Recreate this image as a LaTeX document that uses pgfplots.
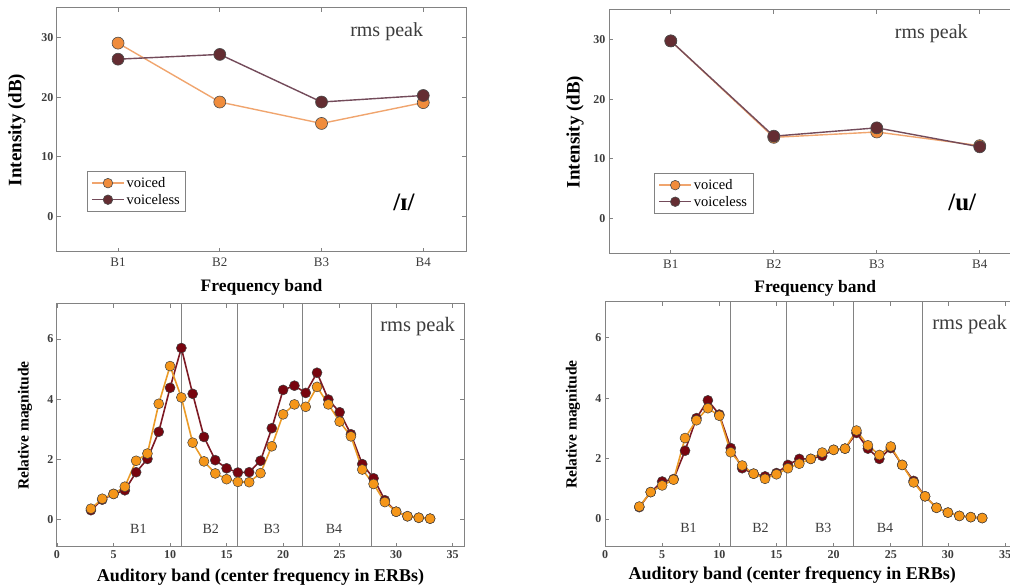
\documentclass[border=0pt]{standalone}
\usepackage{pgfplots}
\pgfplotsset{compat=1.18}
\usepackage{fontspec}
\setmainfont{Liberation Serif}
\definecolor{oTopFill}{RGB}{240,140,60}
\definecolor{oTopLine}{RGB}{240,165,110}
\definecolor{dTopFill}{RGB}{100,45,50}
\definecolor{dTopLine}{RGB}{115,75,90}
\definecolor{oBotFill}{RGB}{245,150,25}
\definecolor{oBotLine}{RGB}{235,155,40}
\definecolor{dBotFill}{RGB}{120,5,15}
\definecolor{dBotLine}{RGB}{125,25,35}
\definecolor{axgray}{RGB}{130,130,130}
\definecolor{txtgray}{RGB}{60,60,60}
\newcommand{\fs}[1]{\fontsize{#1}{#1}\selectfont}

\pgfplotsset{
  common/.style={
    scale only axis,
    anchor=south west,
    axis line style={axgray, line width=1pt},
    tick style={axgray, line width=0.8pt},
    major tick length=4pt,
    tick align=inside,
    xtick pos=both, ytick pos=both,
    /pgf/number format/assume math mode=true,
    yticklabel style={font=\bfseries\fs{12}, text=txtgray},
    clip=false,
  },
  top/.style={
    common,
    xmin=0.4, xmax=4.42, ymin=-6, ymax=35,
    xtick={1,2,3,4}, xticklabels={B1,B2,B3,B4},
    xticklabel style={font=\fs{13}, text=txtgray, yshift=-2pt},
    ytick={0,10,20,30},
    legend cell align=left,
    legend style={draw=axgray, line width=0.8pt, font=\fs{14.5}, anchor=north west,
      inner xsep=4pt, inner ysep=4pt, row sep=1pt},
    legend image code/.code={\draw[mark repeat=2,mark phase=2,#1] plot coordinates {(0pt,0pt) (16pt,0pt) (32pt,0pt)};},
    legend image post style={mark size=4.8pt},
  },
  bot/.style={
    common,
    xmin=0, xmax=36,
    xtick={0,5,...,35},
    xticklabel style={font=\bfseries\fs{12}, text=txtgray},
    ytick={0,2,4,6},
  },
}

\begin{document}
\begin{tikzpicture}[x=1pt,y=1pt]
\path[use as bounding box] (0,0) rectangle (1010,588);
\clip (0,0) rectangle (1010,588);

% ---------------- top left ----------------
\begin{axis}[top, at={(57pt,336pt)}, width=409pt, height=244pt,
  xlabel={\bfseries\fs{17.5}Frequency band},
  ylabel={\bfseries\fs{19}Intensity (dB)},
  every axis x label/.style={at={(axis description cs:0.5,-0.143)},anchor=center},
  every axis y label/.style={at={(axis description cs:-0.098,0.5)},anchor=center,rotate=90},
  legend style={at={(rel axis cs:0.073,0.332)}},
]
\addplot[color=oTopLine, line width=1.4pt, mark=*, mark size=6pt,
  mark options={fill=oTopFill, draw=black!70, line width=0.6pt}]
  coordinates {(1,29.1) (2,19.2) (3,15.6) (4,19.1)};
\addlegendentry{voiced}
\addplot[color=dTopLine, line width=1.4pt, mark=*, mark size=6pt,
  mark options={fill=dTopFill, draw=black!70, line width=0.6pt}]
  coordinates {(1,26.4) (2,27.2) (3,19.2) (4,20.3)};
\addlegendentry{voiceless}
\node[font=\fs{20}, text=txtgray] at (axis cs:3.64,31) {rms peak};
\node[font=\bfseries\fs{25}] at (axis cs:3.81,2.35) {/ɪ/};
\end{axis}

% ---------------- top right ----------------
\begin{axis}[top, at={(609pt,334pt)}, width=414pt, height=244pt,
  xlabel={\bfseries\fs{17.5}Frequency band},
  ylabel={\bfseries\fs{19}Intensity (dB)},
  every axis x label/.style={at={(axis description cs:0.498,-0.139)},anchor=center},
  every axis y label/.style={at={(axis description cs:-0.082,0.5)},anchor=center,rotate=90},
  legend style={at={(rel axis cs:0.109,0.332)}},
]
\addplot[color=oTopLine, line width=1.4pt, mark=*, mark size=6pt,
  mark options={fill=oTopFill, draw=black!70, line width=0.6pt}]
  coordinates {(1,29.8) (2,13.6) (3,14.5) (4,12.2)};
\addlegendentry{voiced}
\addplot[color=dTopLine, line width=1.4pt, mark=*, mark size=6pt,
  mark options={fill=dTopFill, draw=black!70, line width=0.6pt}]
  coordinates {(1,29.8) (2,13.8) (3,15.2) (4,12.0)};
\addlegendentry{voiceless}
\node[font=\fs{20}, text=txtgray] at (axis cs:3.53,31) {rms peak};
\node[font=\bfseries\fs{25}] at (axis cs:3.83,2.7) {/u/};
\end{axis}

% ---------------- bottom left ----------------
\begin{axis}[bot, at={(57pt,41pt)}, width=407pt, height=243pt,
  ymin=-0.9, ymax=7.16,
  xlabel={\bfseries\fs{18}Auditory band (center frequency in ERBs)},
  ylabel={\bfseries\fs{15.5}Relative magnitude},
  every axis x label/.style={at={(axis description cs:0.5,-0.123)},anchor=center},
  every axis y label/.style={at={(axis description cs:-0.079,0.5)},anchor=center,rotate=90},
]
\foreach \v in {11,16,21.7,27.8}{
  \edef\tmp{\noexpand\draw[axgray, line width=0.9pt] (axis cs:\v,-0.9) -- (axis cs:\v,7.16);}\tmp
}
\addplot[color=dBotLine, line width=1.6pt, mark=*, mark size=5pt,
  mark options={fill=dBotFill, draw=black!75, line width=0.5pt}]
  coordinates {(3,0.32) (4,0.67) (5,0.86) (6,0.98) (7,1.58) (8,2.02) (9,2.92) (10,4.38)
  (11,5.7) (12,4.18) (13,2.75) (14,1.98) (15,1.71) (16,1.57) (17,1.58) (18,1.96)
  (19,3.04) (20,4.31) (21,4.45) (22,4.21) (23,4.88) (24,3.99) (25,3.57) (26,2.84)
  (27,1.85) (28,1.38) (29,0.65) (30,0.27) (31,0.12) (32,0.07) (33,0.04)};
\addplot[color=oBotLine, line width=1.6pt, mark=*, mark size=5pt,
  mark options={fill=oBotFill, draw=black!75, line width=0.5pt}]
  coordinates {(3,0.37) (4,0.70) (5,0.86) (6,1.10) (7,1.96) (8,2.20) (9,3.85) (10,5.10)
  (11,4.06) (12,2.56) (13,1.94) (14,1.54) (15,1.35) (16,1.26) (17,1.25) (18,1.55)
  (19,2.44) (20,3.50) (21,3.83) (22,3.75) (23,4.41) (24,3.83) (25,3.26) (26,2.77)
  (27,1.67) (28,1.19) (29,0.59) (30,0.27) (31,0.12) (32,0.07) (33,0.04)};
\node[font=\fs{14}, text=txtgray] at (axis cs:7.2,-0.3) {B1};
\node[font=\fs{14}, text=txtgray] at (axis cs:13.6,-0.3) {B2};
\node[font=\fs{14}, text=txtgray] at (axis cs:19.0,-0.3) {B3};
\node[font=\fs{14}, text=txtgray] at (axis cs:24.5,-0.3) {B4};
\node[font=\fs{20.5}, text=txtgray] at (axis cs:31.9,6.4) {rms peak};
\end{axis}

% ---------------- bottom right ----------------
\begin{axis}[bot, at={(605pt,41pt)}, width=411.5pt, height=245pt,
  ymin=-0.93, ymax=7.19,
  xlabel={\bfseries\fs{18}Auditory band (center frequency in ERBs)},
  ylabel={\bfseries\fs{15.5}Relative magnitude},
  every axis x label/.style={at={(axis description cs:0.455,-0.114)},anchor=center},
  every axis y label/.style={at={(axis description cs:-0.078,0.5)},anchor=center,rotate=90},
]
\foreach \v in {11,15.9,21.7,27.8}{
  \edef\tmp{\noexpand\draw[axgray, line width=0.9pt] (axis cs:\v,-0.93) -- (axis cs:\v,7.19);}\tmp
}
\addplot[color=dBotLine, line width=1.6pt, mark=*, mark size=5pt,
  mark options={fill=dBotFill, draw=black!75, line width=0.5pt}]
  coordinates {(3,0.39) (4,0.89) (5,1.24) (6,1.32) (7,2.26) (8,3.34) (9,3.93) (10,3.46)
  (11,2.35) (12,1.68) (13,1.50) (14,1.41) (15,1.52) (16,1.79) (17,1.99) (18,1.99)
  (19,2.09) (20,2.29) (21,2.33) (22,2.85) (23,2.33) (24,1.99) (25,2.35) (26,1.79)
  (27,1.26) (28,0.75) (29,0.37) (30,0.21) (31,0.10) (32,0.06) (33,0.03)};
\addplot[color=oBotLine, line width=1.6pt, mark=*, mark size=5pt,
  mark options={fill=oBotFill, draw=black!75, line width=0.5pt}]
  coordinates {(3,0.41) (4,0.89) (5,1.11) (6,1.30) (7,2.68) (8,3.27) (9,3.67) (10,3.42)
  (11,2.21) (12,1.77) (13,1.50) (14,1.33) (15,1.48) (16,1.68) (17,1.83) (18,1.99)
  (19,2.20) (20,2.29) (21,2.33) (22,2.93) (23,2.44) (24,2.12) (25,2.40) (26,1.79)
  (27,1.21) (28,0.75) (29,0.37) (30,0.21) (31,0.10) (32,0.06) (33,0.03)};
\node[font=\fs{14}, text=txtgray] at (axis cs:7.3,-0.3) {B1};
\node[font=\fs{14}, text=txtgray] at (axis cs:13.6,-0.3) {B2};
\node[font=\fs{14}, text=txtgray] at (axis cs:19.1,-0.3) {B3};
\node[font=\fs{14}, text=txtgray] at (axis cs:24.5,-0.3) {B4};
\node[font=\fs{20.5}, text=txtgray] at (axis cs:31.9,6.43) {rms peak};
\end{axis}
\end{tikzpicture}
\end{document}
